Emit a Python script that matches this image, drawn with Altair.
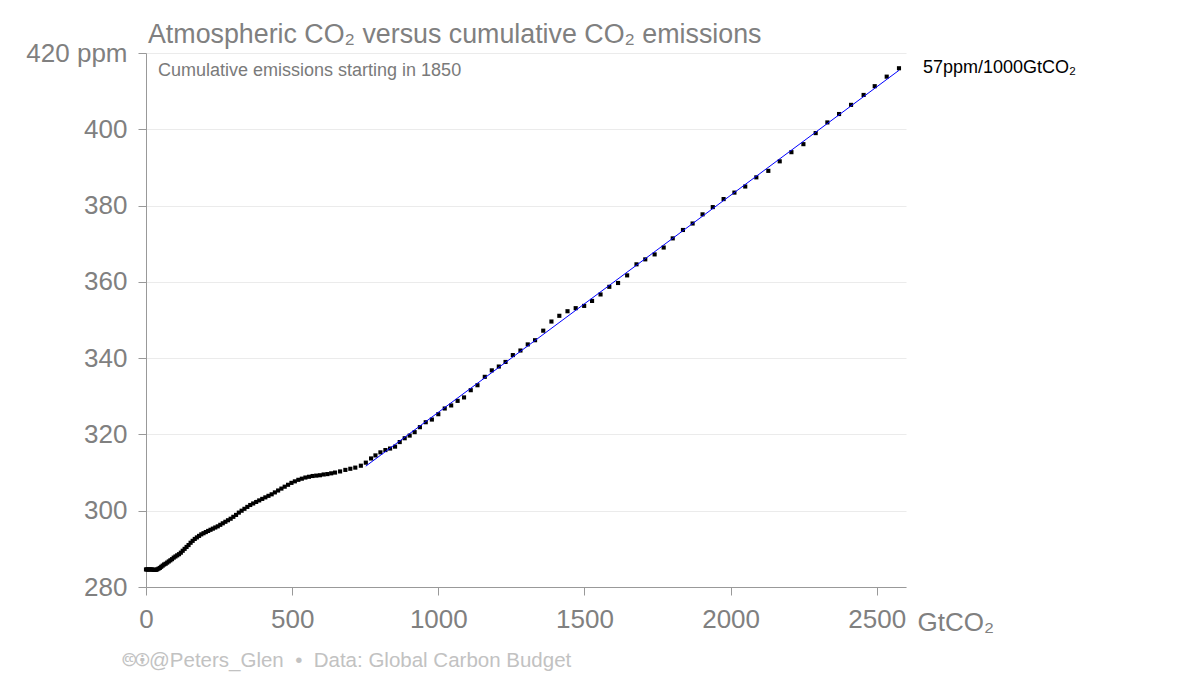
import altair as alt
import pandas as pd

FONT = "'Liberation Sans', Arial, 'DejaVu Sans', sans-serif"

# Cumulative CO2 emissions since 1850 (GtCO2)
cum_emissions = [
    0, 3.3, 6.6, 10.1, 13.8, 17.5, 21.4, 25.4, 29.5, 33.8,
    38.2, 42.7, 47.4, 52.1, 57.0, 62.0, 67.2, 72.5, 77.9, 83.4,
    89.0, 94.8, 100.7, 106.7, 112.9, 119.2, 125.6, 132.1, 138.8, 145.6,
    152.6, 159.6, 166.8, 174.1, 181.6, 189.1, 196.8, 204.7, 212.6, 220.7,
    228.7, 237.0, 245.5, 254.1, 262.7, 271.6, 280.5, 289.6, 298.8, 308.1,
    317.6, 327.1, 336.8, 346.7, 356.6, 366.7, 376.9, 387.3, 397.7, 408.3,
    419.0, 429.9, 440.9, 452.0, 463.2, 474.5, 486.0, 497.6, 509.3, 521.2,
    533.2, 545.3, 557.5, 569.9, 582.4, 595.0, 607.8, 620.6, 633.6, 646.7,
    664, 682, 699, 716, 735, 752, 770, 785, 802, 819,
    835, 852, 868, 885, 902, 919, 937, 957, 978, 1000,
    1022, 1044, 1066, 1088, 1111, 1134, 1159, 1183, 1207, 1230,
    1255, 1281, 1306, 1331, 1359, 1387, 1414, 1442, 1470, 1499,
    1526, 1555, 1585, 1615, 1646, 1678, 1708, 1740, 1771, 1802,
    1837, 1870, 1904, 1939, 1976, 2013, 2050, 2088, 2129, 2168,
    2208, 2249, 2291, 2331, 2371, 2412, 2455, 2493, 2534, 2576,
]

# Atmospheric CO2 concentration (ppm)
co2_ppm = [
    284.6, 284.6, 284.6, 284.6, 284.6, 284.6, 284.6, 284.5, 284.5, 284.5,
    284.6, 284.8, 285.0, 285.3, 285.6, 285.9, 286.1, 286.4, 286.7, 287.0,
    287.3, 287.7, 288.0, 288.3, 288.6, 289.0, 289.5, 290.0, 290.5, 291.0,
    291.6, 292.1, 292.6, 293.0, 293.4, 293.8, 294.1, 294.4, 294.7, 295.0,
    295.3, 295.6, 295.9, 296.3, 296.7, 297.1, 297.5, 297.9, 298.4, 298.9,
    299.5, 300.0, 300.5, 301.0, 301.5, 301.9, 302.3, 302.7, 303.1, 303.5,
    303.9, 304.3, 304.8, 305.3, 305.8, 306.3, 306.8, 307.3, 307.7, 308.1,
    308.4, 308.7, 308.9, 309.1, 309.2, 309.3, 309.5, 309.6, 309.8, 310.0,
    310.3, 310.7, 311.0, 311.3, 311.8, 312.6, 313.7, 314.5, 315.3, 315.9,
    316.3, 316.8, 318.0, 319.0, 319.7, 320.6, 321.9, 323.2, 323.9, 325.3,
    326.8, 327.6, 328.8, 329.7, 331.6, 332.9, 335.1, 336.8, 337.8, 339.0,
    340.8, 342.0, 343.6, 344.7, 347.2, 349.6, 351.1, 352.3, 353.1, 353.7,
    355.0, 356.7, 358.7, 359.7, 361.7, 364.6, 365.9, 367.2, 369.0, 371.4,
    373.6, 375.3, 377.7, 379.6, 381.7, 383.4, 385.0, 387.4, 389.1, 391.6,
    394.0, 396.1, 399.0, 401.8, 404.0, 406.4, 409.0, 411.3, 413.8, 416.0,
]

x_ticks = [0, 500, 1000, 1500, 2000, 2500]
y_ticks = [280, 300, 320, 340, 360, 380, 400, 420]

title_text = "Atmospheric CO\u2082 versus cumulative CO\u2082 emissions"
subtitle_text = "Cumulative emissions starting in 1850"
slope_text = "57ppm/1000GtCO\u2082"
footer_text = "\U0001F16D\U0001F16F@Peters_Glen\u00a0\u00a0\u2022\u00a0\u00a0Data: Global Carbon Budget"
fit_start = 750

df = pd.DataFrame({"cum": cum_emissions, "co2": co2_ppm})

x_enc = alt.X(
    "cum:Q",
    scale=alt.Scale(domain=[0, 2600], nice=False, zero=False),
    axis=alt.Axis(
        values=x_ticks, format="d", grid=False, domainColor="#999999",
        tickColor="#999999", tickSize=8, labelFontSize=26, labelColor="#808080",
        labelFont=FONT, labelPadding=11, labelFlush=False, labelOverlap=False,
        title="GtCO\u2082", titleX=771, titleY=43, titleAlign="left",
        titleBaseline="alphabetic", titleFontSize=26, titleFontWeight="normal",
        titleColor="#808080", titleFont=FONT, titleAngle=0,
    ),
)
y_enc = alt.Y(
    "co2:Q",
    scale=alt.Scale(domain=[280, 420], nice=False, zero=False),
    axis=alt.Axis(
        values=y_ticks, format="d", grid=True, gridColor="#ebebeb",
        domainColor="#999999", tickColor="#999999", tickSize=8, labelFontSize=26,
        labelColor="#808080", labelFont=FONT, labelPadding=11, labelFlush=False,
        labelOverlap=False,
        labelExpr="datum.value == 420 ? '420 ppm' : datum.label", title="",
    ),
)

points = alt.Chart(df).mark_square(size=17, color="#000000", opacity=1).encode(
    x=x_enc, y=y_enc
)

fit = (
    alt.Chart(df)
    .transform_filter(alt.datum.cum >= fit_start)
    .transform_regression("cum", "co2")
    .mark_line(color="#0000ff", strokeWidth=1)
    .encode(x="cum:Q", y="co2:Q")
)

last = pd.DataFrame({"cum": [cum_emissions[-1]], "co2": [co2_ppm[-1]], "t": [slope_text]})
slope_label = alt.Chart(last).mark_text(
    align="left", baseline="middle", dx=24, fontSize=18, font=FONT, color="#000000"
).encode(x="cum:Q", y="co2:Q", text="t:N")


def note(text, x, y, size, color):
    return alt.Chart(pd.DataFrame({"t": [text]})).mark_text(
        align="left", baseline="alphabetic", fontSize=size, font=FONT, color=color
    ).encode(x=alt.value(x), y=alt.value(y), text="t:N")


title = note(title_text, 2, -10, 26.8, "#808080")
subtitle = note(subtitle_text, 12, 23, 18, "#7a7a7a")
footer = note(footer_text, -23, 614, 20.5, "#c2c2c2")

chart = (
    alt.layer(points, fit, slope_label, title, subtitle, footer)
    .properties(
        width=760,
        height=534,
        autosize=alt.AutoSizeParams(type="none"),
        padding={"left": 146, "top": 53, "right": 294, "bottom": 88},
        background="#ffffff",
    )
    .configure_view(strokeWidth=0)
)

chart.save("out.html", embed_options={"renderer": "svg", "actions": False})
